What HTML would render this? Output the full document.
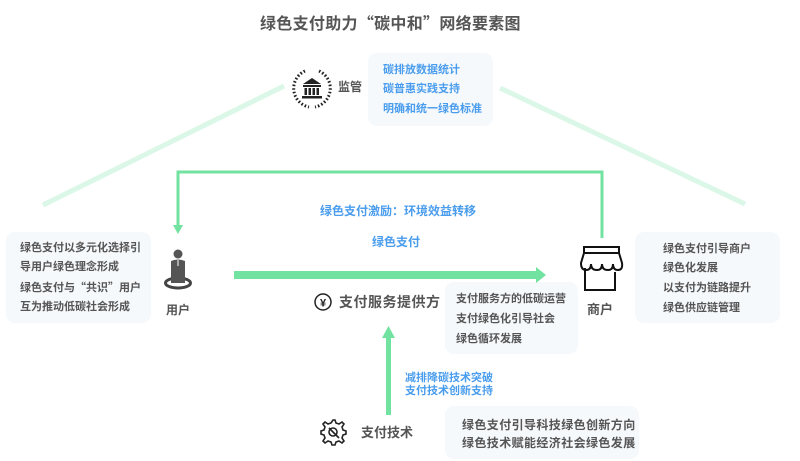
<!DOCTYPE html>
<html><head><meta charset="utf-8">
<style>
html,body{margin:0;padding:0;background:#fff;}
body{width:800px;height:461px;position:relative;overflow:hidden;font-family:"Liberation Sans","Noto Sans CJK SC",sans-serif;}
.t{position:absolute;white-space:nowrap;font-weight:bold;line-height:1;}
.g{color:#555;}
.b{color:#4a9ded;}
.box{position:absolute;background:#f6f9fc;border-radius:9px;}
.q{font-family:"Noto Sans CJK SC",sans-serif;}
svg{position:absolute;left:0;top:0;}
</style></head><body>

<div class="box" style="left:368px;top:53px;width:125px;height:73px;"></div>
<div class="box" style="left:6px;top:232px;width:145px;height:91px;"></div>
<div class="box" style="left:635px;top:232px;width:145px;height:91px;"></div>
<div class="box" style="left:445px;top:282px;width:133px;height:72px;"></div>
<div class="box" style="left:445px;top:406px;width:194px;height:53px;"></div>

<svg width="800" height="461" viewBox="0 0 800 461">
  <line x1="43" y1="205" x2="284" y2="86" stroke="#dbf7e7" stroke-width="5"/>
  <line x1="500" y1="88" x2="745" y2="204" stroke="#dbf7e7" stroke-width="5"/>
  <polyline points="602,238 602,172 178,172 178,226" fill="none" stroke="#72e2a0" stroke-width="3"/>
  <polygon points="173,225 183,225 178,234" fill="#72e2a0"/>
  <rect x="234" y="271" width="303" height="8" fill="#72e2a0"/>
  <polygon points="536,267 546,275 536,283" fill="#72e2a0"/>
  <rect x="386" y="337" width="5" height="78" fill="#72e2a0"/>
  <polygon points="382,338 395,338 388.5,326" fill="#72e2a0"/>

  <g fill="none" stroke="#222" stroke-width="3" stroke-dasharray="1.6 2">
    <path d="M305,71 A19,19 0 0 0 309,107"/>
    <path d="M319,71 A19,19 0 0 1 315,107"/>
  </g>
  <g fill="#222">
    <polygon points="312,78 303,84 321,84"/>
    <rect x="303" y="85" width="18" height="2"/>
    <rect x="304.5" y="88" width="2.5" height="7"/>
    <rect x="308.5" y="88" width="2.5" height="7"/>
    <rect x="312.5" y="88" width="2.5" height="7"/>
    <rect x="316.5" y="88" width="2.5" height="7"/>
    <rect x="302" y="96" width="20" height="2.5"/>
  </g>

  <ellipse cx="178" cy="283" rx="12.5" ry="5" fill="none" stroke="#444" stroke-width="3"/>
  <circle cx="178" cy="254" r="4.5" fill="#555"/>
  <path d="M171,261 Q178,258 185,261 L185,283 L171,283 Z" fill="#555"/>
  <line x1="178" y1="260" x2="178" y2="266" stroke="#fff" stroke-width="1"/>

  <g fill="none" stroke="#111" stroke-width="2">
    <rect x="584" y="247" width="35" height="6"/>
    <path d="M584,253 L581,263 Q581,270 586,270 Q591,270 591,264 Q591,270 597,270 Q602,270 602,264 Q602,270 608,270 Q613,270 613,264 Q613,270 618,270 Q623,270 622,263 L619,253"/>
    <path d="M585,268 L585,290 L615,290 L615,272"/>
  </g>

  <circle cx="323" cy="302" r="8" fill="none" stroke="#222" stroke-width="1.5"/>
  <text x="323" y="306.5" font-size="11" font-weight="bold" text-anchor="middle" fill="#222" font-family="Liberation Sans, sans-serif">¥</text>

  <g fill="none" stroke="#222" stroke-width="1.6">
    <path d="M333,420 l2,0 1,3 3,1 3,-2 2,2 -2,3 1,3 3,1 0,3 -3,1 -1,3 2,3 -2,2 -3,-2 -3,1 -1,3 -3,0 -1,-3 -3,-1 -3,2 -2,-2 2,-3 -1,-3 -3,-1 0,-3 3,-1 1,-3 -2,-3 2,-2 3,2 3,-1 z"/>
    <path d="M329,428 l4,4 M333,432 l6,6"/>
    <circle cx="333" cy="432" r="4"/>
  </g>
</svg>

<div class="t g" style="left:260px;top:14px;font-size:16px;letter-spacing:0.3px;">绿色支付助力<span class="q">“</span>碳中和<span class="q">”</span>网络要素图</div>

<div class="t g" style="left:338px;top:81px;font-size:12px;">监管</div>
<div class="t b" style="left:383px;top:65px;font-size:11px;">碳排放数据统计</div>
<div class="t b" style="left:383px;top:84px;font-size:11px;">碳普惠实践支持</div>
<div class="t b" style="left:383px;top:104px;font-size:11px;">明确和统一绿色标准</div>

<div class="t b" style="left:320px;top:205px;font-size:12px;">绿色支付激励<span class="q">：</span>环境效益转移</div>
<div class="t b" style="left:372px;top:236px;font-size:12px;">绿色支付</div>

<div class="t g" style="left:20px;top:243px;font-size:11px;">绿色支付以多元化选择引</div>
<div class="t g" style="left:20px;top:262px;font-size:11px;">导用户绿色理念形成</div>
<div class="t g" style="left:20px;top:282px;font-size:11px;">绿色支付与<span class="q">“</span>共识<span class="q">”</span>用户</div>
<div class="t g" style="left:20px;top:302px;font-size:11px;">互为推动低碳社会形成</div>
<div class="t g" style="left:166px;top:304px;font-size:12px;">用户</div>

<div class="t g" style="left:663px;top:244px;font-size:11px;">绿色支付引导商户</div>
<div class="t g" style="left:663px;top:263px;font-size:11px;">绿色化发展</div>
<div class="t g" style="left:663px;top:283px;font-size:11px;">以支付为链路提升</div>
<div class="t g" style="left:663px;top:303px;font-size:11px;">绿色供应链管理</div>
<div class="t g" style="left:587px;top:303px;font-size:13px;">商户</div>

<div class="t g" style="left:339px;top:295px;font-size:14px;letter-spacing:0.5px;">支付服务提供方</div>
<div class="t g" style="left:456px;top:294px;font-size:11px;">支付服务方的低碳运营</div>
<div class="t g" style="left:456px;top:314px;font-size:11px;">支付绿色化引导社会</div>
<div class="t g" style="left:456px;top:334px;font-size:11px;">绿色循环发展</div>

<div class="t b" style="left:405px;top:373px;font-size:11px;">减排降碳技术突破</div>
<div class="t b" style="left:405px;top:386px;font-size:11px;">支付技术创新支持</div>

<div class="t g" style="left:361px;top:426px;font-size:13px;">支付技术</div>
<div class="t g" style="left:462px;top:419px;font-size:12px;letter-spacing:0.4px;">绿色支付引导科技绿色创新方向</div>
<div class="t g" style="left:462px;top:437px;font-size:12px;letter-spacing:0.4px;">绿色技术赋能经济社会绿色发展</div>

</body></html>
